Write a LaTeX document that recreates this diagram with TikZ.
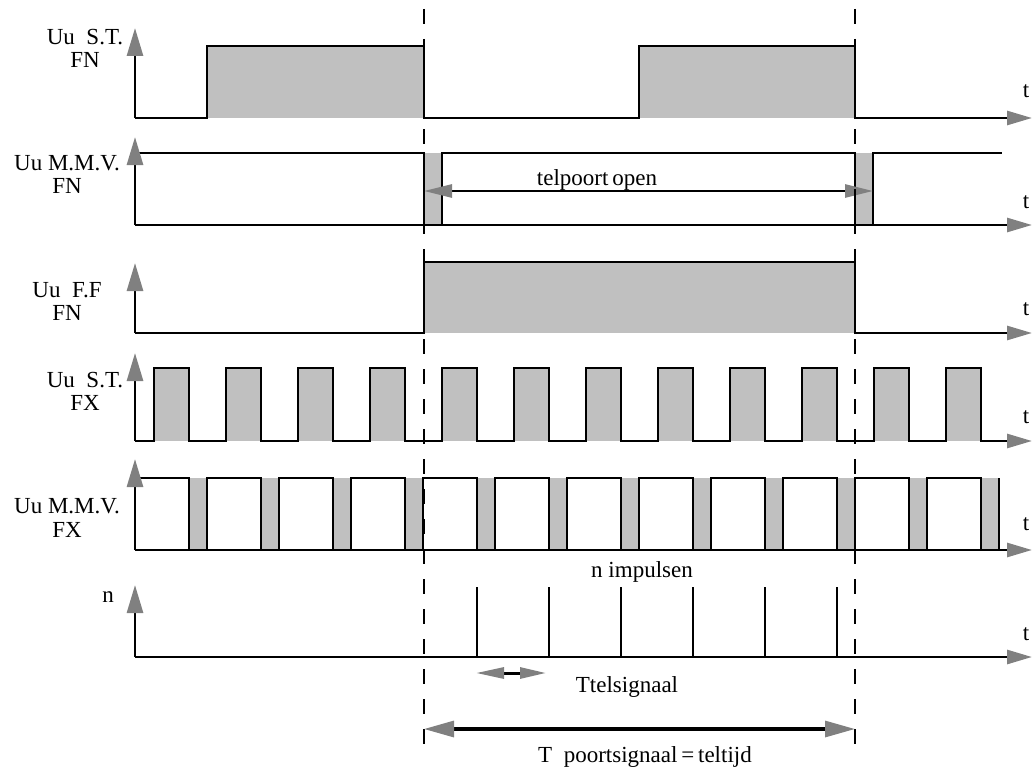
\documentclass[tikz,border=0pt]{standalone}
\usepackage{fontspec}
\setmainfont{Liberation Serif}
\usepackage{tikz}
\usetikzlibrary{arrows.meta}
\definecolor{pulsegray}{HTML}{C0C0C0}
\definecolor{tipgray}{HTML}{808080}
\newcommand{\graybox}[4]{\fill[pulsegray] ( #1 , #2 ) rectangle ( #3 , #4 );}
\newcommand{\yaxis}[2]{\draw[upaxis] ( 135 , #1 ) -- ( 135 , #2 );}
\newcommand{\tlabel}[2]{\node[lbl] (#1) at ( 1026 , #2 ) {t};}

\begin{document}
\begin{tikzpicture}[x=1pt, y=-1pt,
    wave/.style={line width=2.8pt},
    upaxis/.style={wave, -{Triangle[length=28pt,width=16pt,color=tipgray]}},
    taxis/.style={wave, -{Triangle[length=25pt,width=14pt,color=tipgray]}},
    dimline/.style={wave, {Triangle[length=28pt,width=13pt,color=tipgray]}-{Triangle[length=28pt,width=13pt,color=tipgray]}},
    dimsmall/.style={line width=3pt, {Triangle[length=28pt,width=11pt,color=tipgray]}-{Triangle[length=26pt,width=11pt,color=tipgray]}},
    dimthick/.style={line width=3.2pt, {Triangle[length=30pt,width=16pt,color=tipgray]}-{Triangle[length=30pt,width=16pt,color=tipgray]}},
    guide/.style={line width=2.6pt, dash pattern=on 15pt off 15pt},
    lbl/.style={font=\fontsize{23}{23}\selectfont, inner sep=0pt, anchor=base}]
        \useasboundingbox (0,0) rectangle (1032,773);
        % row 1: S.T. FN
        \graybox{207}{46}{424}{118}
        \graybox{639}{46}{855}{118}
        \draw[taxis] (135,118) -- (207,118) -- (207,46) -- (424,46) -- (424,118) -- (639,118) -- (639,46) -- (855,46) -- (855,118) -- (1032,118);
        \yaxis{118}{28}
        \node[lbl] (stfnA) at (85,45) {Uu\ \ S.T.};
        \node[lbl] (stfnB) at (85,68) {FN};
        \tlabel{tA}{98}
        % row 2: M.M.V. FN
        \graybox{424}{153}{442}{225}
        \graybox{855}{153}{873}{225}
        \draw[taxis] (135,225) -- (1032,225);
        \draw[wave] (135,153) -- (424,153) -- (424,225) -- (442,225) -- (442,153) -- (855,153) -- (855,225) -- (873,225) -- (873,153) -- (1002,153);
        \yaxis{225}{137}
        \node[lbl] (mmvfnA) at (67,170) {Uu M.M.V.};
        \node[lbl] (mmvfnB) at (67,193) {FN};
        \tlabel{tB}{208}
        \coordinate (gateL) at (424,191);
        \coordinate (gateR) at (873,191);
        \draw[dimline] (gateL) -- (gateR);
        \node[lbl] (telpoort) at (597,185) {telpoort\,open};
        % row 3: F.F FN
        \graybox{424}{262}{855}{333}
        \draw[taxis] (135,333) -- (424,333) -- (424,262) -- (855,262) -- (855,333) -- (1032,333);
        \yaxis{333}{263}
        \node[lbl] (fffnA) at (67,297) {Uu\ \ F.F};
        \node[lbl] (fffnB) at (67,320) {FN};
        \tlabel{tC}{315}
        % row 4: S.T. FX
        \foreach \k in {0,...,11} {
            \graybox{154+72*\k}{368}{189+72*\k}{441}
        }
        \draw[taxis] (135,441) \foreach \k in {0,...,11} { -- (154+72*\k,441) -- (154+72*\k,368) -- (189+72*\k,368) -- (189+72*\k,441) } -- (1032,441);
        \yaxis{441}{353}
        \node[lbl] (stfxA) at (85,387) {Uu\ \ S.T.};
        \node[lbl] (stfxB) at (85,410) {FX};
        \tlabel{tD}{423}
        % row 5: M.M.V. FX
        \foreach \k in {0,...,11} {
            \graybox{189+72*\k}{478}{207+72*\k}{550}
        }
        \draw[taxis] (135,550) -- (1032,550);
        \draw[wave] (135,478) \foreach \k in {0,...,11} { -- (189+72*\k,478) -- (189+72*\k,550) -- (207+72*\k,550) -- (207+72*\k,478) };
        \yaxis{550}{459}
        \node[lbl] (mmvfxA) at (67,513) {Uu M.M.V.};
        \node[lbl] (mmvfxB) at (67,537) {FX};
        \tlabel{tE}{530}
        % row 6: n
        \draw[taxis] (135,657) -- (1032,657);
        \foreach \k in {0,...,5} {
            \draw[wave] (477+72*\k,657) -- (477+72*\k,587);
        }
        \yaxis{657}{585}
        \node[lbl] (nlbl) at (108,602) {n};
        \tlabel{tF}{640}
        \node[lbl] (impulsen) at (642,577) {n impulsen};
        \coordinate (telL) at (476,673);
        \coordinate (telR) at (546,673);
        \draw[dimsmall] (telL) -- (telR);
        \node[lbl] (telsig) at (627,692) {Ttelsignaal};
        % gate lines
        \draw[guide] (424,9) -- (424,744);
        \draw[guide] (855,9) -- (855,744);
        \coordinate (poortL) at (424,729);
        \coordinate (poortR) at (855,729);
        \draw[dimthick] (poortL) -- (poortR);
        \node[lbl] (poort) at (645,762) {T\ \ poortsignaal\,=\,teltijd};
\end{tikzpicture}
\end{document}
